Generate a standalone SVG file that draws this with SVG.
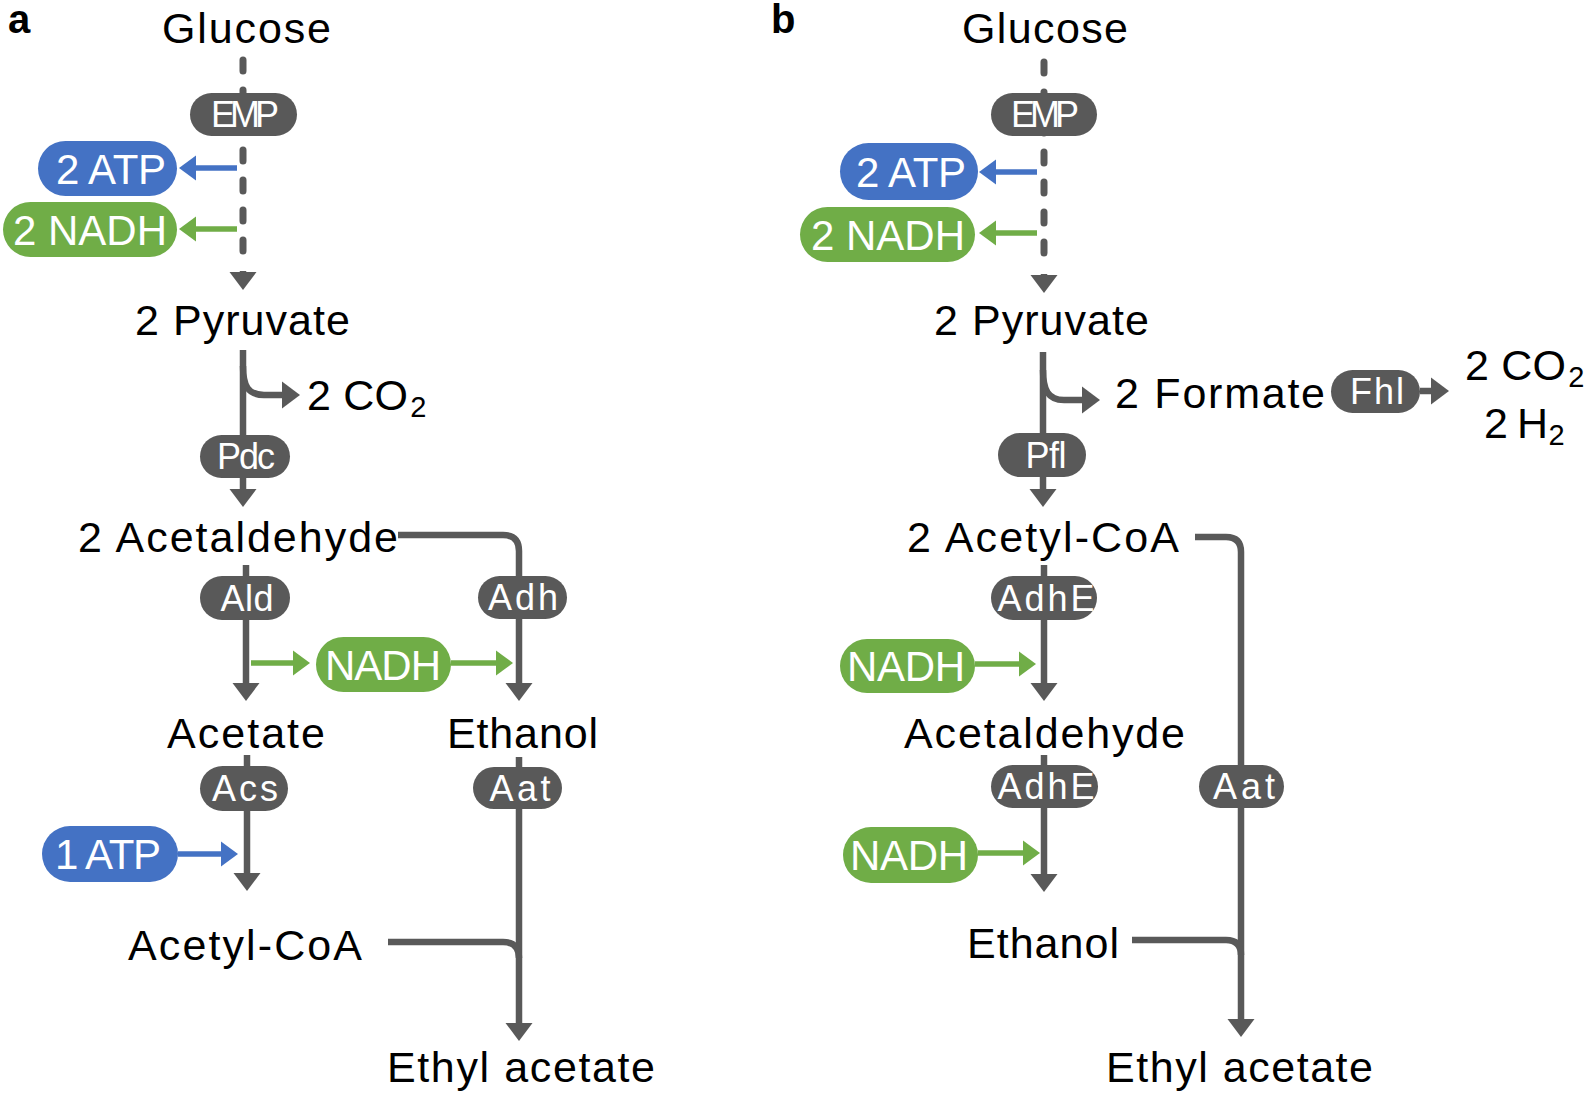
<svg xmlns="http://www.w3.org/2000/svg" width="1595" height="1095" viewBox="0 0 1595 1095">
<style>
.lbl{font-family:"Liberation Sans",Arial,sans-serif;font-size:43px;fill:#000}
.sub{font-size:29px}
.pl{font-family:"Liberation Sans",Arial,sans-serif;font-size:42px;fill:#fff;text-anchor:middle}
.el{font-family:"Liberation Sans",Arial,sans-serif;font-size:36px;fill:#fff;text-anchor:middle}
.enz{fill:#595959}
.atp{fill:#4472C4}
.nadh{fill:#70AD47}
.g{fill:none;stroke:#595959;stroke-width:6.5}
.gd{fill:none;stroke:#595959;stroke-width:7;stroke-dasharray:11 19;stroke-linecap:round}
.b{fill:none;stroke:#4472C4;stroke-width:5.5}
.gr{fill:none;stroke:#70AD47;stroke-width:5.5}
.panel{font-family:"Liberation Sans",Arial,sans-serif;font-size:40px;font-weight:bold;fill:#000}
</style>
<defs>
<marker id="ag" viewBox="0 -14 18 28" markerWidth="18" markerHeight="28" refX="1" refY="0" orient="auto" markerUnits="userSpaceOnUse"><path d="M0,-13.5 L18,0 L0,13.5 Z" fill="#595959"/></marker>
<marker id="ab" viewBox="0 -13 17 26" markerWidth="17" markerHeight="26" refX="1" refY="0" orient="auto" markerUnits="userSpaceOnUse"><path d="M0,-12.5 L17,0 L0,12.5 Z" fill="#4472C4"/></marker>
<marker id="agr" viewBox="0 -13 17 26" markerWidth="17" markerHeight="26" refX="1" refY="0" orient="auto" markerUnits="userSpaceOnUse"><path d="M0,-12.5 L17,0 L0,12.5 Z" fill="#70AD47"/></marker>
</defs>

<text class="panel" x="8" y="33">a</text>
<text class="panel" x="771" y="33">b</text>

<g id="connectors">
<!-- panel a -->
<path class="gd" d="M243,60 L243,268"/>
<path class="g" d="M243,271 L243,273" marker-end="url(#ag)"/>
<path class="g" d="M243,350 L243,490" marker-end="url(#ag)"/>
<path class="g" d="M243,366 C243,386 248,395 264,395 L283,395" marker-end="url(#ag)"/>
<path class="g" d="M246,565 L246,684" marker-end="url(#ag)"/>
<path class="g" d="M398,535 L503,535 Q519,535 519,551 L519,684" marker-end="url(#ag)"/>
<path class="g" d="M247,755 L247,874" marker-end="url(#ag)"/>
<path class="g" d="M519,757 L519,1024" marker-end="url(#ag)"/>
<path class="g" d="M388,942 L503,942 Q519,942 519,958"/>
<path class="b" d="M237,168 L195,168" marker-end="url(#ab)"/>
<path class="gr" d="M237,229 L195,229" marker-end="url(#agr)"/>
<path class="gr" d="M251,663 L294,663" marker-end="url(#agr)"/>
<path class="gr" d="M451,663 L497,663" marker-end="url(#agr)"/>
<path class="b" d="M178,854 L222,854" marker-end="url(#ab)"/>
<!-- panel b -->
<path class="gd" d="M1044,62 L1044,271"/>
<path class="g" d="M1044,274 L1044,276" marker-end="url(#ag)"/>
<path class="g" d="M1043,352 L1043,490" marker-end="url(#ag)"/>
<path class="g" d="M1043,370 C1043,390 1048,400 1064,400 L1083,400" marker-end="url(#ag)"/>
<path class="g" d="M1420,391 L1432,391" marker-end="url(#ag)"/>
<path class="g" d="M1044,565 L1044,684" marker-end="url(#ag)"/>
<path class="g" d="M1044,755 L1044,875" marker-end="url(#ag)"/>
<path class="g" d="M1195,537 L1226,537 Q1241,537 1241,552 L1241,1020" marker-end="url(#ag)"/>
<path class="g" d="M1132,940 L1226,940 Q1241,940 1241,955"/>
<path class="b" d="M1037,172 L995,172" marker-end="url(#ab)"/>
<path class="gr" d="M1037,233 L995,233" marker-end="url(#agr)"/>
<path class="gr" d="M975,664 L1020,664" marker-end="url(#agr)"/>
<path class="gr" d="M978,853 L1024,853" marker-end="url(#agr)"/>
</g>

<!-- panel a metabolites -->
<g id="a-glucose"><text class="lbl" x="162" y="43" textLength="169">Glucose</text></g>
<g id="a-pyruvate"><text class="lbl" x="135" y="335" textLength="215">2 Pyruvate</text></g>
<g id="a-co2"><text class="lbl" x="307" y="410"><tspan textLength="101">2 CO</tspan><tspan class="sub" dx="2" dy="7">2</tspan></text></g>
<g id="a-acetaldehyde"><text class="lbl" x="78" y="552" textLength="320">2 Acetaldehyde</text></g>
<g id="a-acetate"><text class="lbl" x="167" y="748" textLength="158">Acetate</text></g>
<g id="a-ethanol"><text class="lbl" x="447" y="748" textLength="151">Ethanol</text></g>
<g id="a-acetylcoa"><text class="lbl" x="128" y="960" textLength="234">Acetyl-CoA</text></g>
<g id="a-ethylacetate"><text class="lbl" x="387" y="1082" textLength="268">Ethyl acetate</text></g>

<!-- panel a enzymes -->
<g id="a-emp"><rect class="enz" x="190" y="93" width="107" height="43" rx="21.5"/><text class="el" x="245" y="127" textLength="68">EMP</text></g>
<g id="a-pdc"><rect class="enz" x="200" y="435" width="90" height="43" rx="21.5"/><text class="el" x="246" y="469" textLength="58">Pdc</text></g>
<g id="a-ald"><rect class="enz" x="200" y="576" width="90" height="44" rx="22"/><text class="el" x="247" y="611" textLength="53">Ald</text></g>
<g id="a-adh"><rect class="enz" x="478" y="576" width="89" height="43" rx="21.5"/><text class="el" x="523" y="610" textLength="70">Adh</text></g>
<g id="a-acs"><rect class="enz" x="200" y="766" width="88" height="45" rx="22.5"/><text class="el" x="245" y="801" textLength="66">Acs</text></g>
<g id="a-aat"><rect class="enz" x="473" y="767" width="89" height="42" rx="21"/><text class="el" x="520" y="801" textLength="61">Aat</text></g>

<!-- panel a cofactors -->
<g id="a-atp1"><rect class="atp" x="38" y="141" width="139" height="55" rx="27.5"/><text class="pl" x="111" y="184" textLength="110">2 ATP</text></g>
<g id="a-nadh1"><rect class="nadh" x="3" y="202" width="174" height="55" rx="27.5"/><text class="pl" x="90" y="245" textLength="154">2 NADH</text></g>
<g id="a-nadh2"><rect class="nadh" x="316" y="637" width="135" height="55" rx="27.5"/><text class="pl" x="383" y="680" textLength="116">NADH</text></g>
<g id="a-atp2"><rect class="atp" x="42" y="826" width="136" height="56" rx="28"/><text class="pl" x="108" y="869" textLength="106">1 ATP</text></g>

<!-- panel b metabolites -->
<g id="b-glucose"><text class="lbl" x="962" y="43" textLength="166">Glucose</text></g>
<g id="b-pyruvate"><text class="lbl" x="934" y="335" textLength="215">2 Pyruvate</text></g>
<g id="b-formate"><text class="lbl" x="1115" y="408" textLength="210">2 Formate</text></g>
<g id="b-co2"><text class="lbl" x="1465" y="380"><tspan textLength="101">2 CO</tspan><tspan class="sub" dx="2" dy="7">2</tspan></text></g>
<g id="b-h2"><text class="lbl" x="1484" y="438"><tspan textLength="64">2 H</tspan><tspan class="sub" dx="2" dy="7">2</tspan></text></g>
<g id="b-acetylcoa"><text class="lbl" x="907" y="552" textLength="272">2 Acetyl-CoA</text></g>
<g id="b-acetaldehyde"><text class="lbl" x="904" y="748" textLength="281">Acetaldehyde</text></g>
<g id="b-ethanol"><text class="lbl" x="967" y="958" textLength="152">Ethanol</text></g>
<g id="b-ethylacetate"><text class="lbl" x="1106" y="1082" textLength="267">Ethyl acetate</text></g>

<!-- panel b enzymes -->
<g id="b-emp"><rect class="enz" x="991" y="93" width="106" height="43" rx="21.5"/><text class="el" x="1045" y="127" textLength="68">EMP</text></g>
<g id="b-pfl"><rect class="enz" x="998" y="433" width="88" height="44" rx="22"/><text class="el" x="1046" y="468" textLength="41">Pfl</text></g>
<g id="b-fhl"><rect class="enz" x="1331" y="370" width="89" height="43" rx="21.5"/><text class="el" x="1377" y="404" textLength="54">Fhl</text></g>
<g id="b-adhe1"><rect class="enz" x="991" y="576" width="106" height="44" rx="22"/><text class="el" x="1046" y="611" textLength="97">AdhE</text></g>
<g id="b-adhe2"><rect class="enz" x="991" y="765" width="107" height="43" rx="21.5"/><text class="el" x="1046" y="799" textLength="97">AdhE</text></g>
<g id="b-aat"><rect class="enz" x="1199" y="765" width="85" height="43" rx="21.5"/><text class="el" x="1244" y="799" textLength="62">Aat</text></g>

<!-- panel b cofactors -->
<g id="b-atp"><rect class="atp" x="840" y="143" width="138" height="57" rx="28.5"/><text class="pl" x="911" y="187" textLength="110">2 ATP</text></g>
<g id="b-nadh1"><rect class="nadh" x="800" y="207" width="175" height="55" rx="27.5"/><text class="pl" x="888" y="250" textLength="154">2 NADH</text></g>
<g id="b-nadh2"><rect class="nadh" x="840" y="639" width="135" height="54" rx="27"/><text class="pl" x="906" y="681" textLength="118">NADH</text></g>
<g id="b-nadh3"><rect class="nadh" x="843" y="827" width="135" height="56" rx="28"/><text class="pl" x="909" y="870" textLength="118">NADH</text></g>
</svg>
